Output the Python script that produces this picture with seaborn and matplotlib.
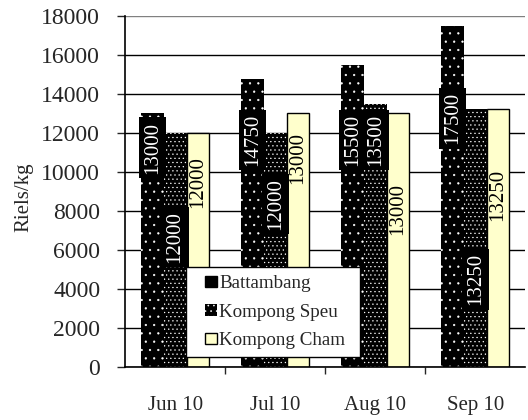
import numpy as np
import pandas as pd
import seaborn as sns
import matplotlib.pyplot as plt
from matplotlib.patches import Patch, Rectangle
from matplotlib.legend_handler import HandlerPatch

# data
months = ["Jun 10", "Jul 10", "Aug 10", "Sep 10"]
regions = ["Battambang", "Kompong Speu", "Kompong Cham"]
battambang = [13000, 14750, 15500, 17500]
kompong_speu = [12000, 12000, 13500, 13250]
kompong_cham = [12000, 13000, 13000, 13250]

# where each value label sits (data units, centre of the text)
battambang_lbl_y = [11250, 11650, 11650, 12750]
kompong_speu_lbl_y = [6650, 8350, 11650, 4500]
kompong_cham_lbl_y = [9500, 10700, 8100, 8850]

df = pd.DataFrame({
    "Month": months * 3,
    "Price": battambang + kompong_speu + kompong_cham,
    "Region": np.repeat(regions, len(months)),
})

sns.set_style("white")
plt.rcParams["font.family"] = ["Liberation Serif", "DejaVu Serif"]
plt.rcParams["hatch.linewidth"] = 0.4

fig, ax = plt.subplots(figsize=(5.28, 4.2), dpi=100)
fig.subplots_adjust(left=0.237, right=0.995, bottom=0.126, top=0.962)

cham_color = "#FFFFCC"
sns.barplot(data=df, x="Month", y="Price", hue="Region",
            palette=["black", "black", cham_color], width=0.68,
            saturation=1, ax=ax, legend=False)

hatches = ["..", "....", None]
for cont, h in zip(ax.containers, hatches):
    for bar in cont:
        if h:
            bar.set_hatch(h)
            bar.set_edgecolor("white")
            bar.set_linewidth(0)
        else:
            bar.set_edgecolor("black")
            bar.set_linewidth(1)

# value labels, rotated
values = [battambang, kompong_speu, kompong_cham]
label_ys = [battambang_lbl_y, kompong_speu_lbl_y, kompong_cham_lbl_y]
for i, cont in enumerate(ax.containers):
    for bar, v, ly in zip(cont, values[i], label_ys[i]):
        xc = bar.get_x() + bar.get_width() / 2
        if i < 2:
            ax.text(xc, ly, f"{v}", rotation=90, ha="center", va="center",
                    color="white", fontsize=15,
                    bbox=dict(facecolor="black", edgecolor="none", pad=3))
        else:
            ax.text(xc, ly, f"{v}", rotation=90, ha="center", va="center",
                    color="black", fontsize=15)

ax.set_ylim(0, 18000)
ax.set_xlim(-0.5, 3.5)
ax.set_yticks(range(0, 18001, 2000))
ax.yaxis.grid(True, color="black", lw=1)
ax.get_ygridlines()[-1].set_color("0.5")
ax.set_axisbelow(True)
ax.tick_params(axis="y", left=True, direction="out", length=6, width=1,
               labelsize=17, pad=12)
ax.set_xticks([0.5, 1.5, 2.5], minor=True)
ax.tick_params(axis="x", which="major", length=0, labelsize=15, pad=21)
ax.tick_params(axis="x", which="minor", bottom=True, length=5, width=1)
ax.set_xlabel("")
ax.set_ylabel("Riels/kg", fontsize=15)
ax.yaxis.set_label_coords(-0.23, 0.484)

for s in ["top", "right"]:
    ax.spines[s].set_visible(False)
for s in ["left", "bottom"]:
    ax.spines[s].set_color("black")
    ax.spines[s].set_linewidth(1.2)


class SquareHandler(HandlerPatch):
    def create_artists(self, legend, orig_handle, xdescent, ydescent,
                       width, height, fontsize, trans):
        s = 0.6 * fontsize
        p = Rectangle((-xdescent, -ydescent + (height - s) / 2), s, s)
        self.update_prop(p, orig_handle, legend)
        p.set_transform(trans)
        return [p]


handles = [
    Patch(facecolor="black", edgecolor="black"),
    Patch(facecolor="black", edgecolor="white", hatch="...", linewidth=0),
    Patch(facecolor=cham_color, edgecolor="black", linewidth=1),
]

# legend box drawn as its own frame
ax.add_patch(Rectangle((0.1525, 0.028), 0.435, 0.256, transform=ax.transAxes,
                       facecolor="white", edgecolor="black", lw=1,
                       zorder=4.5))
ax.legend(handles, regions, loc="center left",
          bbox_to_anchor=(0.2, 0.028 + 0.128), frameon=False,
          fontsize=13.7, handlelength=0.6, handleheight=0.6,
          handletextpad=0.15, borderpad=0, borderaxespad=0,
          labelspacing=0.6, handler_map={Patch: SquareHandler()})

plt.savefig("out.png", dpi=100)
